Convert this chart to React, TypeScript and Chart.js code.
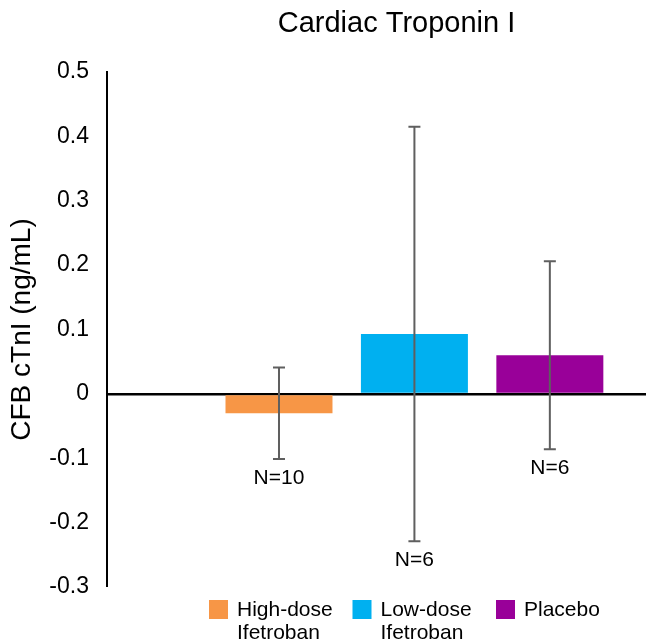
import React, { useEffect, useRef } from "react";
import { Chart, registerables } from "chart.js";

Chart.register(...registerables);

const FONT = "'Liberation Sans', Arial, Helvetica, sans-serif";

const chartTitle = "Cardiac Troponin I";
const yAxisTitle = "CFB cTnI (ng/mL)";
const categories = ["High-dose Ifetroban", "Low-dose Ifetroban", "Placebo"];
const legendLines = [["High-dose", "Ifetroban"], ["Low-dose", "Ifetroban"], ["Placebo"]];
const means = [-0.03, 0.093, 0.06];
const errors = [0.071, 0.322, 0.146];
const nLabels = ["N=10", "N=6", "N=6"];
const colors = ["#F79646", "#00B0F0", "#990099"];
const yTicks = [0.5, 0.4, 0.3, 0.2, 0.1, 0, -0.1, -0.2, -0.3];

const decorPlugin = {
  id: "decor",
  afterDatasetsDraw(chart: any) {
    const { ctx, chartArea, scales } = chart;
    const xs = scales.x;
    const ys = scales.y;
    ctx.save();
    means.forEach((m, i) => {
      const px = xs.getPixelForValue(i);
      const top = ys.getPixelForValue(m + errors[i]);
      const bot = ys.getPixelForValue(m - errors[i]);
      ctx.strokeStyle = "#5f5f5f";
      ctx.lineWidth = 2;
      ctx.beginPath();
      ctx.moveTo(px, top);
      ctx.lineTo(px, bot);
      ctx.moveTo(px - 6, top);
      ctx.lineTo(px + 6, top);
      ctx.moveTo(px - 6, bot);
      ctx.lineTo(px + 6, bot);
      ctx.stroke();
      ctx.fillStyle = "#000";
      ctx.font = `21px ${FONT}`;
      ctx.textAlign = "center";
      ctx.textBaseline = "middle";
      ctx.fillText(nLabels[i], px, bot + 19);
    });
    // title
    ctx.fillStyle = "#000";
    ctx.font = `29px ${FONT}`;
    ctx.textAlign = "center";
    ctx.textBaseline = "middle";
    ctx.fillText(chartTitle, (chartArea.left + chartArea.right) / 2 + 20, 24);
    // legend
    const startX = chartArea.left + 102;
    const boxTop = chartArea.bottom + 13;
    ctx.font = `21px ${FONT}`;
    ctx.textAlign = "left";
    categories.forEach((_, i) => {
      const bx = startX + i * 143.5;
      ctx.fillStyle = colors[i];
      ctx.fillRect(bx, boxTop, 19, 19);
      ctx.fillStyle = "#000";
      legendLines[i].forEach((line, j) => {
        ctx.fillText(line, bx + 28, boxTop + 10 + j * 23);
      });
    });
    ctx.restore();
  },
};

export default function App() {
  const ref = useRef<HTMLCanvasElement>(null);
  useEffect(() => {
    document.body.style.margin = "0";
    const chart = new Chart(ref.current as HTMLCanvasElement, {
      type: "bar",
      data: {
        labels: categories,
        datasets: [
          {
            label: yAxisTitle,
            data: means.map((m, i) => ({ x: i, y: m })) as any,
            backgroundColor: colors,
            categoryPercentage: 1,
            barPercentage: 0.79,
          },
        ],
      },
      options: {
        animation: false,
        responsive: false,
        layout: { padding: { top: 72, bottom: 57, left: 0, right: 0 } },
        plugins: {
          legend: { display: false },
          title: { display: false },
          tooltip: { enabled: false },
        },
        scales: {
          x: {
            type: "linear",
            min: -1.27,
            max: 2.71,
            offset: false,
            display: false,
            grid: { display: false },
            afterBuildTicks: (s: any) => {
              s.ticks = categories.map((_, i) => ({ value: i }));
            },
          },
          y: {
            min: -0.3,
            max: 0.5,
            afterFit: (s: any) => {
              s.width = 107;
            },
            afterBuildTicks: (s: any) => {
              s.ticks = yTicks.map((v) => ({ value: v }));
            },
            grid: {
              drawTicks: false,
              color: (c: any) => (c.tick && c.tick.value === 0 ? "#000" : "rgba(0,0,0,0)"),
              lineWidth: (c: any) => (c.tick && c.tick.value === 0 ? 2.5 : 0),
            },
            border: { display: true, color: "#000", width: 2 },
            ticks: {
              padding: 18,
              color: "#000",
              font: { size: 23, family: FONT },
              callback: (v: any) => String(Math.round(Number(v) * 10) / 10),
            },
            title: {
              display: true,
              text: yAxisTitle,
              color: "#000",
              font: { size: 28, family: FONT },
              padding: { top: 5, bottom: 0 },
            },
          },
        },
      },
      plugins: [decorPlugin],
    });
    return () => chart.destroy();
  }, []);
  return (
    <div style={{ width: 646, height: 644 }}>
      <canvas ref={ref} width={646} height={644} />
    </div>
  );
}
